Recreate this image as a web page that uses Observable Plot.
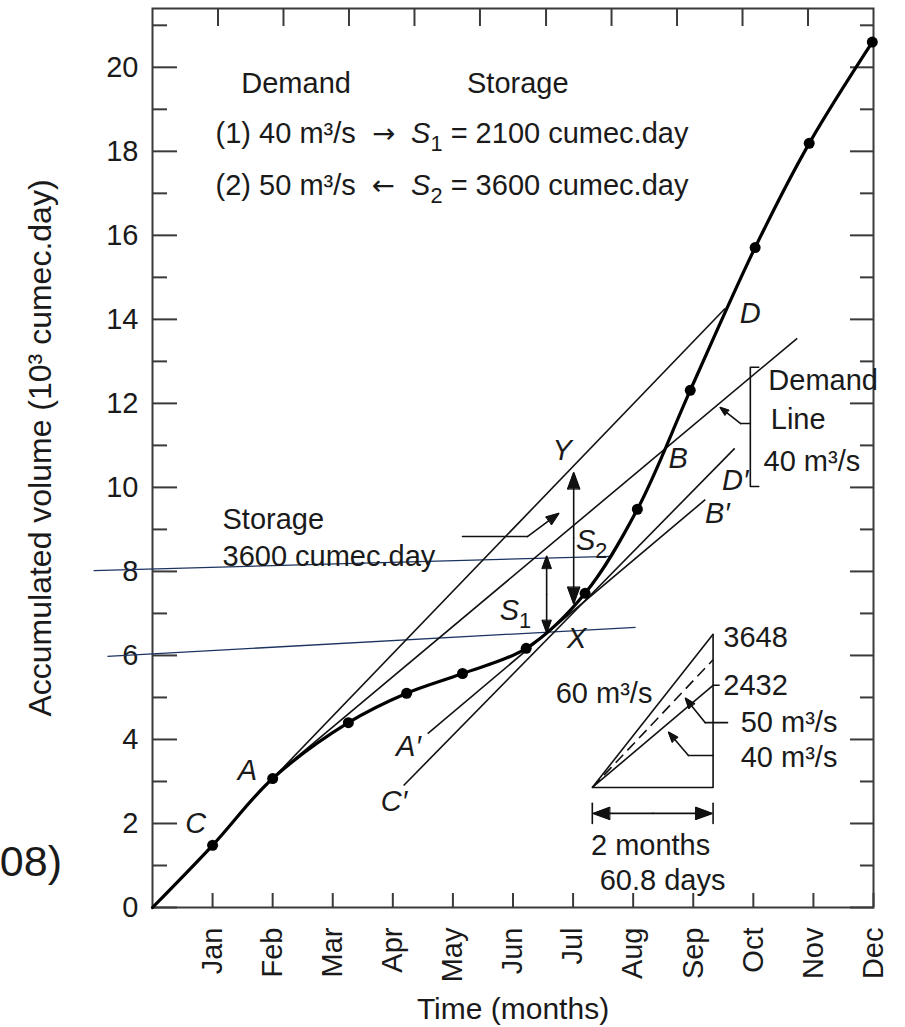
<!DOCTYPE html>
<html>
<head>
<meta charset="utf-8">
<script src="https://cdn.jsdelivr.net/npm/d3@7"></script>
<script src="https://cdn.jsdelivr.net/npm/@observablehq/plot@0.6"></script>
<style>
  html, body { margin: 0; padding: 0; background: #fff; }
  #wrap { position: relative; width: 905px; height: 1027px; overflow: hidden; font-family: "Liberation Sans", Arial, Helvetica, sans-serif; color: #1a1a1a; }
  #chart { position: absolute; left: 0; top: 0; }
  #cite { position: absolute; right: 843px; top: 840px; font-size: 43px; line-height: 1; white-space: nowrap; }
</style>
</head>
<body>
<div id="wrap">
  <div id="chart"></div>
  <div id="cite">08)</div>
</div>
<script>
// ---------- axis ticks ----------
const monthNames = ["Jan","Feb","Mar","Apr","May","Jun","Jul","Aug","Sep","Oct","Nov","Dec"];
const monthTicks = [1,2,3,4,5,6,7,8,9,10,11,12];
const majorVolumeTicks = [0,2,4,6,8,10,12,14,16,18,20];
const minorVolumeTicks = [1,3,5,7,9,11,13,15,17,19,21];
const topFrameTicks = [1.09,2.18,3.27,4.36,5.45,6.55,7.64,8.73,9.82,10.91];
const xAxisTitle = "Time (months)";
const yAxisTitle = "Accumulated volume (10³ cumec.day)";

// ---------- mass curve (months, 10^3 cumec.day) ----------
const curveMonth  = [0, 1.0, 2.0, 3.26, 4.23, 5.16, 6.22, 7.2, 8.07, 8.95, 10.03, 10.93, 11.98];
const curveVolume = [0, 1.48, 3.07, 4.40, 5.10, 5.57, 6.17, 7.48, 9.48, 12.31, 15.71, 18.19, 20.6];

// ---------- straight demand / tangent lines ----------
const lineNames       = ["A–D 50 m³/s", "Demand 40 m³/s", "C′–D′", "A′–B′"];
const lineStartMonth  = [2.0, 2.0, 4.18, 4.58];
const lineStartVolume = [3.07, 3.10, 2.905, 4.14];
const lineEndMonth    = [9.53, 10.73, 9.69, 9.2];
const lineEndVolume   = [14.26, 13.55, 10.93, 9.71];

// ---------- overlay (dark blue) reference lines ----------
const overlayStartMonth  = [-0.98, -0.75];
const overlayStartVolume = [8.02, 5.98];
const overlayEndMonth    = [7.62, 8.04];
const overlayEndVolume   = [8.36, 6.67];

// ---------- storage arrows ----------
const arrowFromMonth  = [6.56, 6.56, 7.01, 7.01, 6.24, 9.79, 9.20, 8.92, 8.33, 8.33];
const arrowFromVolume = [7.45, 7.45, 8.80, 8.80, 8.83, 11.52, 4.40, 3.62, 2.24, 2.24];
const arrowToMonth    = [6.56, 6.56, 7.01, 7.01, 6.76, 9.45, 8.87, 8.59, 7.34, 9.31];
const arrowToVolume   = [8.36, 6.55, 10.35, 7.24, 9.38, 11.90, 4.98, 4.17, 2.24, 2.24];

// ---------- leader polylines (group, month, volume) ----------
const leaderGroup  = ["storage","storage","bracket","bracket","bracket","bracket","demand","demand","r50","r50","r40","r40","barL","barL","barR","barR","tri","tri","tri","t2432","t2432"];
const leaderMonth  = [5.16, 6.24, 10.09, 9.95, 9.95, 10.09, 9.95, 9.79, 9.57, 9.20, 9.33, 8.92, 7.32, 7.32, 9.33, 9.33, 7.32, 9.33, 9.33, 9.33, 9.43];
const leaderVolume = [8.83, 8.83, 12.86, 12.86, 10.02, 10.02, 11.52, 11.52, 4.40, 4.40, 3.62, 3.62, 2.48, 2.0, 2.48, 2.0, 2.857, 2.857, 6.505, 5.289, 5.289];

// ---------- inset rate triangle (2 months = 60.8 days) ----------
const insetOriginMonth = 7.32, insetOriginVolume = 2.857, insetEndMonth = 9.33;
const insetRates   = [60, 50, 40];              // m3/s
const insetVolumes = [3.648, 3.040, 2.432];     // 10^3 cumec.day in 60.8 days
const insetDashed  = [false, true, false];

// ---------- text annotations ----------
const headerText   = ["Demand", "Storage", "(1) 40 m³/s\u00a0\u00a0→\u00a0\u00a0S₁ = 2100 cumec.day", "(2) 50 m³/s\u00a0\u00a0←\u00a0\u00a0S₂ = 3600 cumec.day"];
const headerMonth  = [2.39, 6.08, 1.05, 1.05];
const headerVolume = [19.62, 19.62, 18.43, 17.19];
const headerAnchor = ["middle", "middle", "start", "start"];

const pointLabel  = ["C", "A", "A′", "C′", "Y", "X", "B", "D", "D′", "B′", "S₁", "S₂"];
const pointMonth  = [0.72, 1.58, 4.26, 4.02, 6.82, 7.06, 8.75, 9.95, 9.70, 9.40, 6.04, 7.31];
const pointVolume = [2.0, 3.26, 3.83, 2.52, 10.88, 6.40, 10.69, 14.14, 10.17, 9.38, 7.07, 8.74];

const noteText   = ["Storage", "3600 cumec.day", "Demand", "Line", "40 m³/s", "3648", "2432", "60 m³/s", "50 m³/s", "40 m³/s", "2 months", "60.8 days"];
const noteMonth  = [1.165, 1.165, 10.25, 10.29, 10.17, 9.50, 9.50, 8.32, 9.79, 9.79, 8.29, 8.49];
const noteVolume = [9.24, 8.36, 12.55, 11.6, 10.6, 6.43, 5.29, 5.10, 4.40, 3.57, 1.48, 0.64];
const noteAnchor = ["start","start","start","start","start","start","start","end","start","start","middle","middle"];

// ---------- build tables ----------
const curve = curveMonth.map((m, i) => ({month: m, volume: curveVolume[i]}));
const tangents = lineNames.map((n, i) => ({name: n, x1: lineStartMonth[i], y1: lineStartVolume[i], x2: lineEndMonth[i], y2: lineEndVolume[i]}));
const overlays = overlayStartMonth.map((m, i) => ({x1: m, y1: overlayStartVolume[i], x2: overlayEndMonth[i], y2: overlayEndVolume[i]}));
const arrows = arrowFromMonth.map((m, i) => ({x1: m, y1: arrowFromVolume[i], x2: arrowToMonth[i], y2: arrowToVolume[i]}));
const leaders = leaderGroup.map((g, i) => ({g, month: leaderMonth[i], volume: leaderVolume[i]}));
const insetLines = insetRates.map((r, i) => ({rate: r, x1: insetOriginMonth, y1: insetOriginVolume, x2: insetEndMonth, y2: insetOriginVolume + insetVolumes[i], dashed: insetDashed[i]}));
const headers = headerText.map((t, i) => ({t, month: headerMonth[i], volume: headerVolume[i], anchor: headerAnchor[i]}));
const points = pointLabel.map((t, i) => ({t, month: pointMonth[i], volume: pointVolume[i]}));
const notes = noteText.map((t, i) => ({t, month: noteMonth[i], volume: noteVolume[i], anchor: noteAnchor[i]}));
const texts = headers.concat(notes);

const FONT = '"Liberation Sans", Arial, Helvetica, sans-serif';
const INK = "#1a1a1a";
const FS = 29;
const TICK = "#3a3a3a";

const anchoredText = anchor => Plot.text(texts.filter(d => d.anchor === anchor),
  {x: "month", y: "volume", text: "t", textAnchor: anchor, fontSize: FS, fill: INK});

const chart = Plot.plot({
  width: 905,
  height: 1027,
  marginLeft: 152,
  marginRight: 32,
  marginTop: 8,
  marginBottom: 120,
  style: {fontFamily: FONT, fontSize: FS + "px", color: INK, background: "transparent", overflow: "visible"},
  x: {domain: [0, 12]},
  y: {domain: [0, 21.4]},
  marks: [
    // axes: tick marks (inward) and labels
    Plot.axisY(majorVolumeTicks, {anchor: "left", tickSize: -25, fill: "none", stroke: TICK, strokeWidth: 2}),
    Plot.axisY(minorVolumeTicks, {anchor: "left", tickSize: -15, fill: "none", stroke: TICK, strokeWidth: 2}),
    Plot.axisY(majorVolumeTicks, {anchor: "right", tickSize: -24, fill: "none", stroke: TICK, strokeWidth: 2}),
    Plot.axisY(minorVolumeTicks, {anchor: "right", tickSize: -14, fill: "none", stroke: TICK, strokeWidth: 2}),
    Plot.axisY(majorVolumeTicks, {anchor: "left", tickSize: 0, tickPadding: 14, fontSize: FS, fill: INK, label: null}),
    Plot.axisX(monthTicks, {anchor: "bottom", tickSize: -14, fill: "none", stroke: TICK, strokeWidth: 2}),
    Plot.axisX(topFrameTicks, {anchor: "top", tickSize: -17, fill: "none", stroke: TICK, strokeWidth: 2}),
    Plot.axisX(monthTicks, {anchor: "bottom", tickSize: 0, tickPadding: 20, tickRotate: -90, fontSize: FS, fill: INK,
      tickFormat: d => monthNames[d - 1], label: null}),
    Plot.frame({stroke: TICK, strokeWidth: 2}),
    Plot.text([yAxisTitle], {frameAnchor: "left", textAnchor: "middle", rotate: -90, dx: -112, dy: -10, fontSize: 32, fill: INK}),
    Plot.text([xAxisTitle], {frameAnchor: "bottom", textAnchor: "middle", dy: 111, fontSize: 30, fill: INK}),

    // overlay reference lines (dark blue)
    Plot.link(overlays, {x1: "x1", y1: "y1", x2: "x2", y2: "y2", stroke: "#1c3360", strokeWidth: 1.3}),

    // tangent / demand lines
    Plot.link(tangents, {x1: "x1", y1: "y1", x2: "x2", y2: "y2", stroke: "#111", strokeWidth: 1.6}),

    // leaders, bracket and inset triangle
    Plot.line(leaders, {x: "month", y: "volume", z: "g", stroke: "#111", strokeWidth: 1.6}),
    Plot.link(insetLines.filter(d => !d.dashed), {x1: "x1", y1: "y1", x2: "x2", y2: "y2", stroke: "#111", strokeWidth: 1.6}),
    Plot.link(insetLines.filter(d => d.dashed), {x1: "x1", y1: "y1", x2: "x2", y2: "y2", stroke: "#111", strokeWidth: 1.6, strokeDasharray: "11,6"}),

    // arrows
    Plot.arrow(arrows, {x1: "x1", y1: "y1", x2: "x2", y2: "y2", stroke: "#111", strokeWidth: 1.6, headLength: 16, headAngle: 40}),

    // mass curve
    Plot.line(curve, {x: "month", y: "volume", curve: "catmull-rom", stroke: "#000", strokeWidth: 3.2}),
    Plot.dot(curve.slice(1), {x: "month", y: "volume", r: 5.5, fill: "#000", stroke: "none"}),

    // texts
    anchoredText("start"),
    anchoredText("middle"),
    anchoredText("end"),
    Plot.text(points, {x: "month", y: "volume", text: "t", fontSize: FS, fontStyle: "italic", fill: INK})
  ]
});

document.getElementById("chart").appendChild(chart);

// ---- post-process: italic S with true subscripts, larger arrow glyphs ----
const NS = "http://www.w3.org/2000/svg";
chart.querySelectorAll("text").forEach(t => {
  if (t.querySelector("tspan")) return;
  const s = t.textContent;
  if (!/S[₁₂]|[→←]/.test(s)) return;
  const parts = s.split(/(S[₁₂]|[→←])/);
  t.textContent = "";
  let pending = 0;
  const add = (txt, attrs) => {
    const el = document.createElementNS(NS, "tspan");
    el.textContent = txt;
    for (const k in attrs) el.setAttribute(k, attrs[k]);
    if (pending && !("dy" in attrs)) { el.setAttribute("dy", String(-pending)); pending = 0; }
    t.appendChild(el);
    return el;
  };
  parts.forEach(p => {
    if (!p) return;
    const m = p.match(/^S([₁₂])$/);
    if (m) {
      add("S", {"font-style": "italic"});
      add(m[1] === "₁" ? "1" : "2", {"font-style": "normal", "font-size": "0.75em", "dy": "8"});
      pending = 8;
    } else if (p === "→" || p === "←") {
      add(p, {"font-family": '"DejaVu Sans", sans-serif', "font-size": "0.95em"});
    } else {
      add(p, {});
    }
  });
});

// ---- post-process: fill arrow heads ----
chart.querySelectorAll('g[aria-label="arrow"] path').forEach(p => {
  const nums = (p.getAttribute("d") || "").match(/-?\d*\.?\d+(?:e-?\d+)?/g);
  if (!nums || nums.length < 10) return;
  const n = nums.slice(-6).map(Number);
  const tri = document.createElementNS(NS, "path");
  tri.setAttribute("d", `M${n[0]},${n[1]}L${n[2]},${n[3]}L${n[4]},${n[5]}Z`);
  tri.setAttribute("fill", "#111");
  tri.setAttribute("stroke", "#111");
  tri.setAttribute("stroke-width", "1");
  p.parentNode.appendChild(tri);
});
</script>
</body>
</html>
